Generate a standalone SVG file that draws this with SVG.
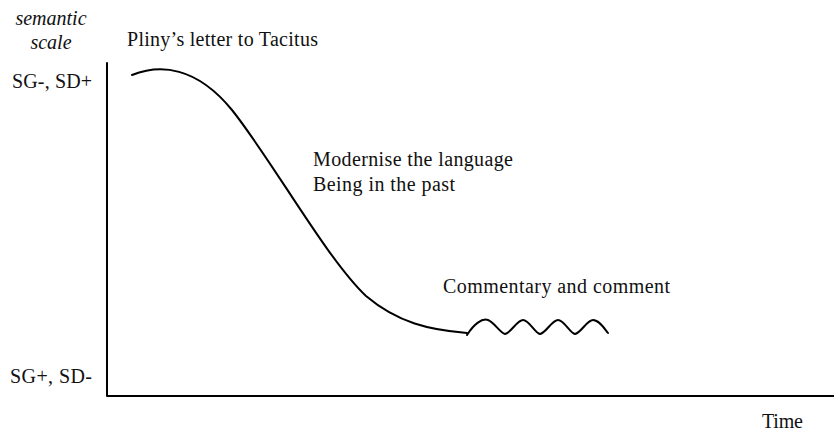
<svg xmlns="http://www.w3.org/2000/svg" width="834" height="433" viewBox="0 0 834 433">
<style>
.t{font-family:"Liberation Serif","Times New Roman",serif;font-size:20px;fill:#111}
.i{font-style:italic}
.ln{fill:none;stroke:#000;stroke-width:2;stroke-linecap:round;stroke-linejoin:round}
</style>
<rect width="834" height="433" fill="#fff"/>
<g id="axes">
<path class="ln" d="M107,63 V396 H834"/>
</g>
<g id="labels">
<text class="t i" x="51" y="25" text-anchor="middle">semantic</text>
<text class="t i" x="51" y="49" text-anchor="middle">scale</text>
<text class="t" x="127" y="46" textLength="191">Pliny’s letter to Tacitus</text>
<text class="t" x="12" y="88" textLength="80">SG-, SD+</text>
<text class="t" x="10" y="383" textLength="82">SG+, SD-</text>
<text class="t" x="313" y="166" textLength="200">Modernise the language</text>
<text class="t" x="313" y="191" textLength="142">Being in the past</text>
<text class="t" x="443" y="293" textLength="227">Commentary and comment</text>
<text class="t" x="762" y="428" textLength="41">Time</text>
</g>
<g id="connectors">
<path class="ln" d="M132,75 C160,64 196,66 232,110 C272,160 326,258 366,296 C398,323 430,330 467,333"/>
<path class="ln" d="M467,335 C474,324 482,318 488,320 C494,322 500,333 505,334 C511,333 517,320 523,320 C529,320 535,333 540,334 C546,333 552,320 558,320 C564,320 570,333 575,334 C581,333 587,320 593,320 C599,320 604,328 608,333"/>
</g>
</svg>
